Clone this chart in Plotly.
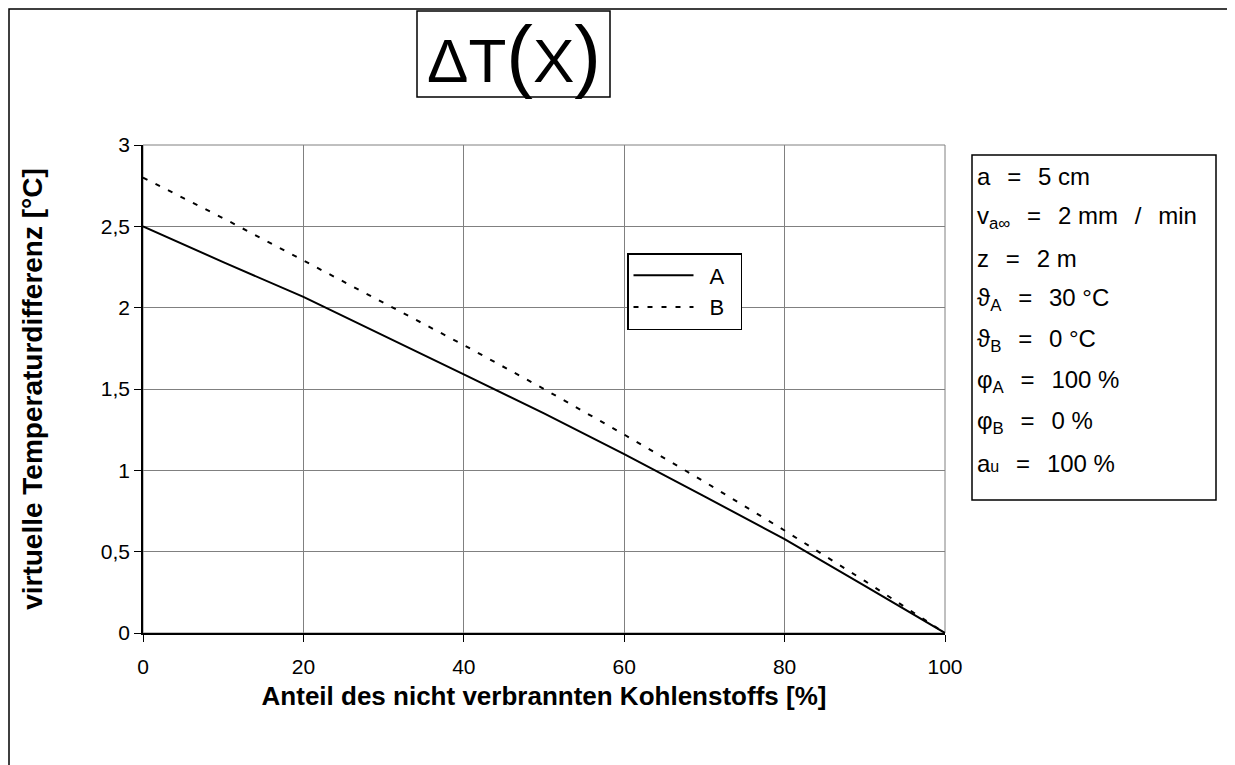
import plotly.graph_objects as go

# ─── Data ─────────────────────────────────────────────────────────────────────
anteil_pct = [0, 10, 20, 30, 40, 50, 60, 70, 80, 90, 100]
dT_A = [2.50, 2.28, 2.066, 1.83, 1.59, 1.35, 1.10, 0.84, 0.577, 0.29, 0.0]
dT_B = [2.80, 2.55, 2.29, 2.03, 1.77, 1.50, 1.22, 0.93, 0.63, 0.32, 0.0]

x_ticks = [0, 20, 40, 60, 80, 100]
y_ticks = [0, 0.5, 1, 1.5, 2, 2.5, 3]

EQ = "\u2002\u2009=\u2002\u2009"
params = [
    "a" + EQ + "5 cm",
    "v<sub>a∞</sub>" + EQ + "2 mm\u2002\u2009/\u2002\u2009min",
    "z" + EQ + "2 m",
    "ϑ<sub>A</sub>" + EQ + "30 °C",
    "ϑ<sub>B</sub>" + EQ + "0 °C",
    "φ<sub>A</sub>" + EQ + "100 %",
    "φ<sub>B</sub>" + EQ + "0 %",
    "a<span style='font-size:16px'>u</span>" + EQ + "100 %",
]

# ─── Layout helpers (screen pixel -> paper); page body adds an 8px offset ────
OFF = 8
W, H = 1235 - OFF, 765 - OFF
L, R, T, B = 143, 945, 145, 633      # plot area in screen pixels


def px_x(px):
    return (px - L) / (R - L)


def px_y(py):
    return (B - py) / (B - T)


FONT = "Liberation Sans, Arial, sans-serif"
LEG_PAD = "\u2002"   # pushes the legend label right, like the long sample line

fig = go.Figure()
fig.add_trace(go.Scatter(
    x=anteil_pct, y=dT_A, mode="lines", name=LEG_PAD + "A\u2002",
    line=dict(color="black", width=2),
))
fig.add_trace(go.Scatter(
    x=anteil_pct, y=dT_B, mode="lines", name=LEG_PAD + "B\u2002",
    line=dict(color="black", width=2, dash="5px,9px"),
))

axis_common = dict(
    showgrid=True, gridcolor="#808080", gridwidth=1,
    showline=True, linecolor="black", linewidth=1.5,
    ticks="outside", ticklen=7, tickcolor="black",
    tickfont=dict(size=21, color="black", family=FONT),
    zeroline=False,
)

fig.update_xaxes(
    range=[0, 100], tickvals=x_ticks, ticklabelstandoff=7,
    title=dict(text="<b>Anteil des nicht verbrannten Kohlenstoffs [%]</b>",
               font=dict(size=26, color="black", family=FONT), standoff=10),
    **axis_common,
)
fig.update_yaxes(
    range=[0, 3], tickvals=y_ticks,
    title=dict(text="<b>virtuelle Temperaturdifferenz [°C]</b>",
               font=dict(size=28, color="black", family=FONT), standoff=50),
    **axis_common,
)

shapes = [
    # plot area border (gray)
    dict(type="rect", xref="paper", yref="paper", x0=0, x1=1, y0=0, y1=1,
         line=dict(color="#808080", width=1), layer="below"),
    # outer chart frame
    dict(type="rect", xref="paper", yref="paper",
         x0=px_x(9), x1=px_x(1232), y0=px_y(775), y1=px_y(9),
         line=dict(color="black", width=1.5)),
    # title box
    dict(type="rect", xref="paper", yref="paper",
         x0=px_x(417), x1=px_x(610), y0=px_y(97), y1=px_y(11),
         line=dict(color="black", width=1.5), fillcolor="white"),
    # parameter box
    dict(type="rect", xref="paper", yref="paper",
         x0=px_x(972), x1=px_x(1216), y0=px_y(500), y1=px_y(155),
         line=dict(color="black", width=1.5), fillcolor="white"),
]

annotations = [
    dict(text="ΔT<span style='font-size:80px'>(</span>X<span style='font-size:80px'>)</span>",
         xref="paper", yref="paper", x=px_x(514), y=px_y(54),
         xanchor="center", yanchor="middle", showarrow=False,
         font=dict(size=62, color="black", family=FONT)),
]
for i, line in enumerate(params):
    annotations.append(dict(
        text=line, xref="paper", yref="paper",
        x=px_x(975), y=px_y(176 + i * 41),
        xanchor="left", yanchor="middle", showarrow=False,
        font=dict(size=24, color="black", family=FONT),
    ))

fig.update_layout(
    width=W, height=H,
    margin=dict(l=L - OFF, r=W - (R - OFF), t=T - OFF, b=H - (B - OFF), pad=0),
    plot_bgcolor="white", paper_bgcolor="white",
    font=dict(family=FONT, color="black"),
    separators=",.",
    showlegend=True,
    legend=dict(
        x=px_x(627), y=px_y(253), xanchor="left", yanchor="top",
        bgcolor="white", bordercolor="black", borderwidth=1.5,
        font=dict(size=22, color="black", family=FONT),
        itemwidth=60, tracegroupgap=0,
    ),
    shapes=shapes,
    annotations=annotations,
)

fig.write_html("out.html")
